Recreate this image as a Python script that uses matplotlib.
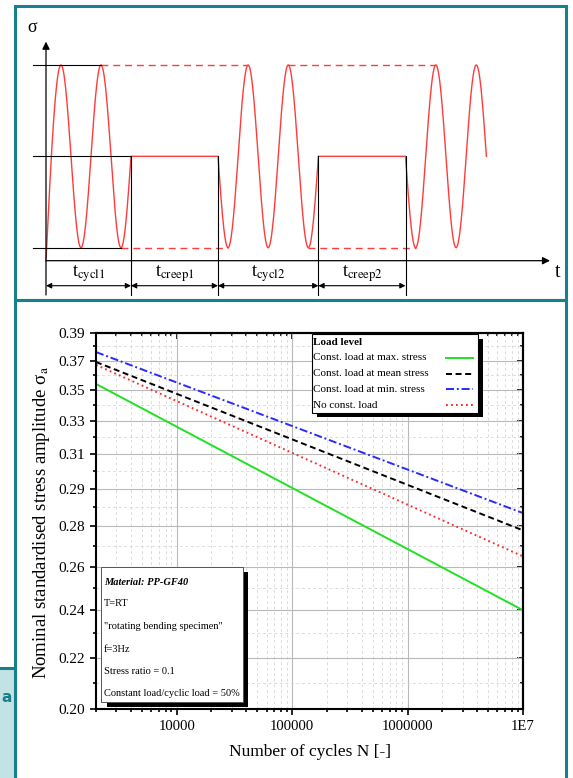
import numpy as np
import matplotlib
matplotlib.use('Agg')
import matplotlib.pyplot as plt
from matplotlib.patches import Rectangle
from matplotlib.lines import Line2D
from matplotlib.transforms import Affine2D
from matplotlib.ticker import NullFormatter, LogLocator

plt.rcParams['font.family'] = ['Liberation Serif', 'DejaVu Serif']
plt.rcParams['mathtext.fontset'] = 'stix'
plt.rcParams['lines.scale_dashes'] = False

# === S-N lines (straight in log-log), values at N = 2000 and N = 1E7 ===
N_ends = [2000, 1e7]
s_max_load = [0.364, 0.240]
s_mean_load = [0.379, 0.278]
s_min_load = [0.386, 0.287]
s_no_load = [0.377, 0.265]

series_labels = ['Const. load at max. stress', 'Const. load at mean stress',
                 'Const. load at min. stress', 'No const. load']

x_ticks = [1e4, 1e5, 1e6, 1e7]
x_tick_labels = ['10000', '100000', '1000000', '1E7']
y_ticks = [0.20, 0.22, 0.24, 0.26, 0.28, 0.30, 0.32, 0.34, 0.36, 0.38, 0.40]
y_tick_labels = ['0.20', '0.22', '0.24', '0.26', '0.28', '0.29', '0.31', '0.33',
                 '0.35', '0.37', '0.39']
y_minor = [0.21, 0.23, 0.25, 0.27, 0.29, 0.31, 0.33, 0.35, 0.37, 0.39]

info_lines = ['Material: PP-GF40', 'T=RT', '"rotating bending specimen"', 'f=3Hz',
              'Stress ratio = 0.1', 'Constant load/cyclic load = 50%']

# === schematic (load sequence) ===
sig_max, sig_mean, sig_min = 10.0, 5.5, 1.0
sig_axis = 0.36
phase_labels = ['cycl1', 'creep1', 'cycl2', 'creep2']
phase_len = [85, 87, 100.4, 87.1]
last_cycl_len = 80.9
periods = [40.0, 40.16, 40.45]

teal = '#17808a'
W, H = 573, 778
fig = plt.figure(figsize=(W / 100, H / 100), dpi=100)
pix = Affine2D().scale(1 / W, -1 / H).translate(0, 1) + fig.transFigure


# ---------------- top panel ----------------
axs = fig.add_axes([0, 1 - 300 / H, 1, 300 / H])
axs.axis('off')
axs.set_xlim(-46, 527)
axs.set_ylim(-1.576, 13.2)


def sy(ypx):
    # pixel row -> stress units of the schematic
    return 1 + (247.7 - ypx) / 20.3


b = np.cumsum([0] + phase_len)
amp = (sig_max - sig_min) / 2
P1, P2, P3 = periods

t1 = np.linspace(0, b[1], 400)
s1 = np.where(t1 < 15, sig_axis + (sig_max - sig_axis) * np.sin(np.pi / 2 * t1 / 15),
              sig_mean + amp * np.sin(2 * np.pi * (t1 - b[1]) / P1))
t2 = np.linspace(b[2], b[3], 400)
s2 = sig_mean - amp * np.sin(2 * np.pi * (t2 - b[2]) / P2)
t3 = np.linspace(b[4], b[4] + last_cycl_len, 400)
s3 = sig_mean - amp * np.sin(2 * np.pi * (t3 - b[4]) / P3)

red = '#ff3b3b'
axs.plot(np.concatenate([t1, [b[2]], t2, [b[4]], t3]),
         np.concatenate([s1, [sig_mean], s2, [sig_mean], s3]), color=red, lw=1.0)

# dashed envelopes between the cyclic blocks
dash = dict(color=red, lw=1.0, ls=(0, (5, 3.5)))
axs.plot([b[1] - 0.75 * P1, b[2] + 0.75 * P2], [sig_max, sig_max], **dash)
axs.plot([b[1] - 0.25 * P1, b[2] + 0.25 * P2], [sig_min, sig_min], **dash)
axs.plot([b[2] + 1.75 * P2, b[4] + 0.75 * P3], [sig_max, sig_max], **dash)
axs.plot([b[2] + 2.25 * P2, b[4] + 0.25 * P3], [sig_min, sig_min], **dash)

# black reference levels
axs.plot([-13, b[1] - 0.75 * P1], [sig_max, sig_max], color='k', lw=0.8)
axs.plot([-13, b[1]], [sig_mean, sig_mean], color='k', lw=0.8)
axs.plot([-13, b[1] - 0.25 * P1], [sig_min, sig_min], color='k', lw=0.8)

y_ext = sy(295)
for tb in b[1:]:
    axs.plot([tb, tb], [sig_mean, y_ext], color='k', lw=0.8)

arrow = dict(arrowstyle='-|>', color='k', lw=0.9, mutation_scale=11, shrinkA=0, shrinkB=0)
axs.annotate('', xy=(0, sy(41.7)), xytext=(0, y_ext), arrowprops=arrow)
axs.annotate('', xy=(504, sig_axis), xytext=(0, sig_axis), arrowprops=arrow)
axs.text(-14, sy(28), 'σ', fontsize=13, ha='center', va='center')
axs.text(512, sy(272), 't', fontsize=14.5, ha='center', va='center')

y_dim = sy(285.7)
for i, name in enumerate(phase_labels):
    axs.annotate('', xy=(b[i + 1], y_dim), xytext=(b[i], y_dim),
                 arrowprops=dict(arrowstyle='<|-|>', color='k', lw=0.8,
                                 mutation_scale=8, shrinkA=0, shrinkB=0))
    axs.text((b[i] + b[i + 1]) / 2, sy(274), 't$_{\\mathrm{%s}}$' % name,
             fontsize=13, ha='center', va='center')


# ---------------- S-N chart ----------------
L, R, T, B = 96, 523, 332.7, 709.3
ax = fig.add_axes([L / W, 1 - B / H, (R - L) / W, (B - T) / H])
ax.set_xscale('log')
ax.set_yscale('log')
ax.set_xlim(2000, 1e7)
ax.set_ylim(0.20, 0.40)

ax.set_xticks(x_ticks, x_tick_labels)
ax.xaxis.set_minor_locator(LogLocator(subs=np.arange(2, 10)))
ax.xaxis.set_minor_formatter(NullFormatter())
ax.set_yticks(y_ticks, y_tick_labels)
ax.set_yticks(y_minor, minor=True)
ax.yaxis.set_minor_formatter(NullFormatter())

ax.grid(which='major', color='#b9b9b9', lw=0.8, ls='-')
ax.grid(which='minor', color='#d6d6d6', lw=0.6, ls=(0, (2, 2)))
ax.set_axisbelow(True)

ax.tick_params(which='both', direction='out', width=1.2)
ax.tick_params(which='major', length=4, labelsize=10.6, pad=4)
ax.tick_params(which='minor', length=2.2)
ax.tick_params(axis='y', labelsize=11)
for sp in ax.spines.values():
    sp.set_linewidth(1.5)

sec_x = ax.secondary_xaxis('top')
sec_x.xaxis.set_minor_locator(LogLocator(subs=np.arange(2, 10)))
sec_x.xaxis.set_major_formatter(NullFormatter())
sec_x.xaxis.set_minor_formatter(NullFormatter())
sec_x.tick_params(which='both', direction='in', width=1.2)
sec_x.tick_params(which='major', length=4)
sec_x.tick_params(which='minor', length=2.2)
sec_x.spines['top'].set_linewidth(1.5)

sec_y = ax.secondary_yaxis('right')
sec_y.set_yticks(y_ticks)
sec_y.set_yticks(y_minor, minor=True)
sec_y.yaxis.set_major_formatter(NullFormatter())
sec_y.yaxis.set_minor_formatter(NullFormatter())
sec_y.tick_params(which='both', direction='in', width=1.2)
sec_y.tick_params(which='major', length=4)
sec_y.tick_params(which='minor', length=2.2)
sec_y.spines['right'].set_linewidth(1.5)

styles = [dict(color='#22e022', ls='-'),
          dict(color='black', ls=(0, (4.3, 2.6))),
          dict(color='#2a2aff', ls=(0, (5.8, 2.0, 1.4, 2.0))),
          dict(color='#ff2a2a', ls=(0, (1.3, 2.3)))]
for vals, st in zip([s_max_load, s_mean_load, s_min_load, s_no_load], styles):
    ax.plot(N_ends, vals, lw=1.4, **st)

fig.text(42 / W, 1 - 522 / H, 'Nominal standardised stress amplitude σ$_{\\mathrm{a}}$',
         rotation=90, ha='center', va='center', fontsize=13.5)
fig.text(310 / W, 1 - 752 / H, 'Number of cycles N [-]', ha='center', va='center',
         fontsize=12.5)

# legend box with black shadow
fig.add_artist(Rectangle((316.7, 338.8), 166.6, 78.4, transform=pix, facecolor='black',
                         edgecolor='none', zorder=5))
fig.add_artist(Rectangle((311.7, 334.3), 166.6, 78.4, transform=pix, facecolor='white',
                         edgecolor='black', lw=0.8, zorder=6))
fig.text(313 / W, 1 - 342.3 / H, 'Load level', fontsize=8, fontweight='bold',
         va='center', zorder=7)
for i, (lab, st) in enumerate(zip(series_labels, styles)):
    yy = 358 + i * 15.67
    fig.text(313 / W, 1 - yy / H, lab, fontsize=8, va='center', zorder=7)
    fig.add_artist(Line2D([445.7, 472.7], [yy, yy], transform=pix, lw=1.4, zorder=7, **st))

# material info box with black shadow
fig.add_artist(Rectangle((106.6, 571.7), 141.7, 135.6, transform=pix, facecolor='black',
                         edgecolor='none', zorder=5))
fig.add_artist(Rectangle((101, 566.7), 141.7, 135.6, transform=pix, facecolor='white',
                         edgecolor='#555555', lw=0.7, zorder=6))
info_y = [582.3, 604, 626.7, 649, 671, 693.3]
for i, (txt, yy) in enumerate(zip(info_lines, info_y)):
    kw = dict(fontweight='bold', fontstyle='italic') if i == 0 else {}
    fig.text(104 / W, 1 - yy / H, txt, fontsize=7.5, va='center', zorder=7, **kw)

# panel frames
fig.add_artist(Rectangle((14.5, 6), 551, 294.5, transform=pix, fill=False,
                         edgecolor=teal, lw=2.2, zorder=8))
fig.add_artist(Rectangle((14.5, 300.5), 551, 520, transform=pix, fill=False,
                         edgecolor=teal, lw=2.2, zorder=8))
fig.add_artist(Rectangle((-10, 668), 24.5, 200, transform=pix, facecolor='#c3e2e5',
                         edgecolor=teal, lw=2.2, zorder=8))
fig.text(1 / W, 1 - 697 / H, 'a', fontsize=11, fontweight='bold', color=teal,
         family='DejaVu Sans', ha='left', va='center', zorder=9)

fig.savefig('out.png', dpi=100)
